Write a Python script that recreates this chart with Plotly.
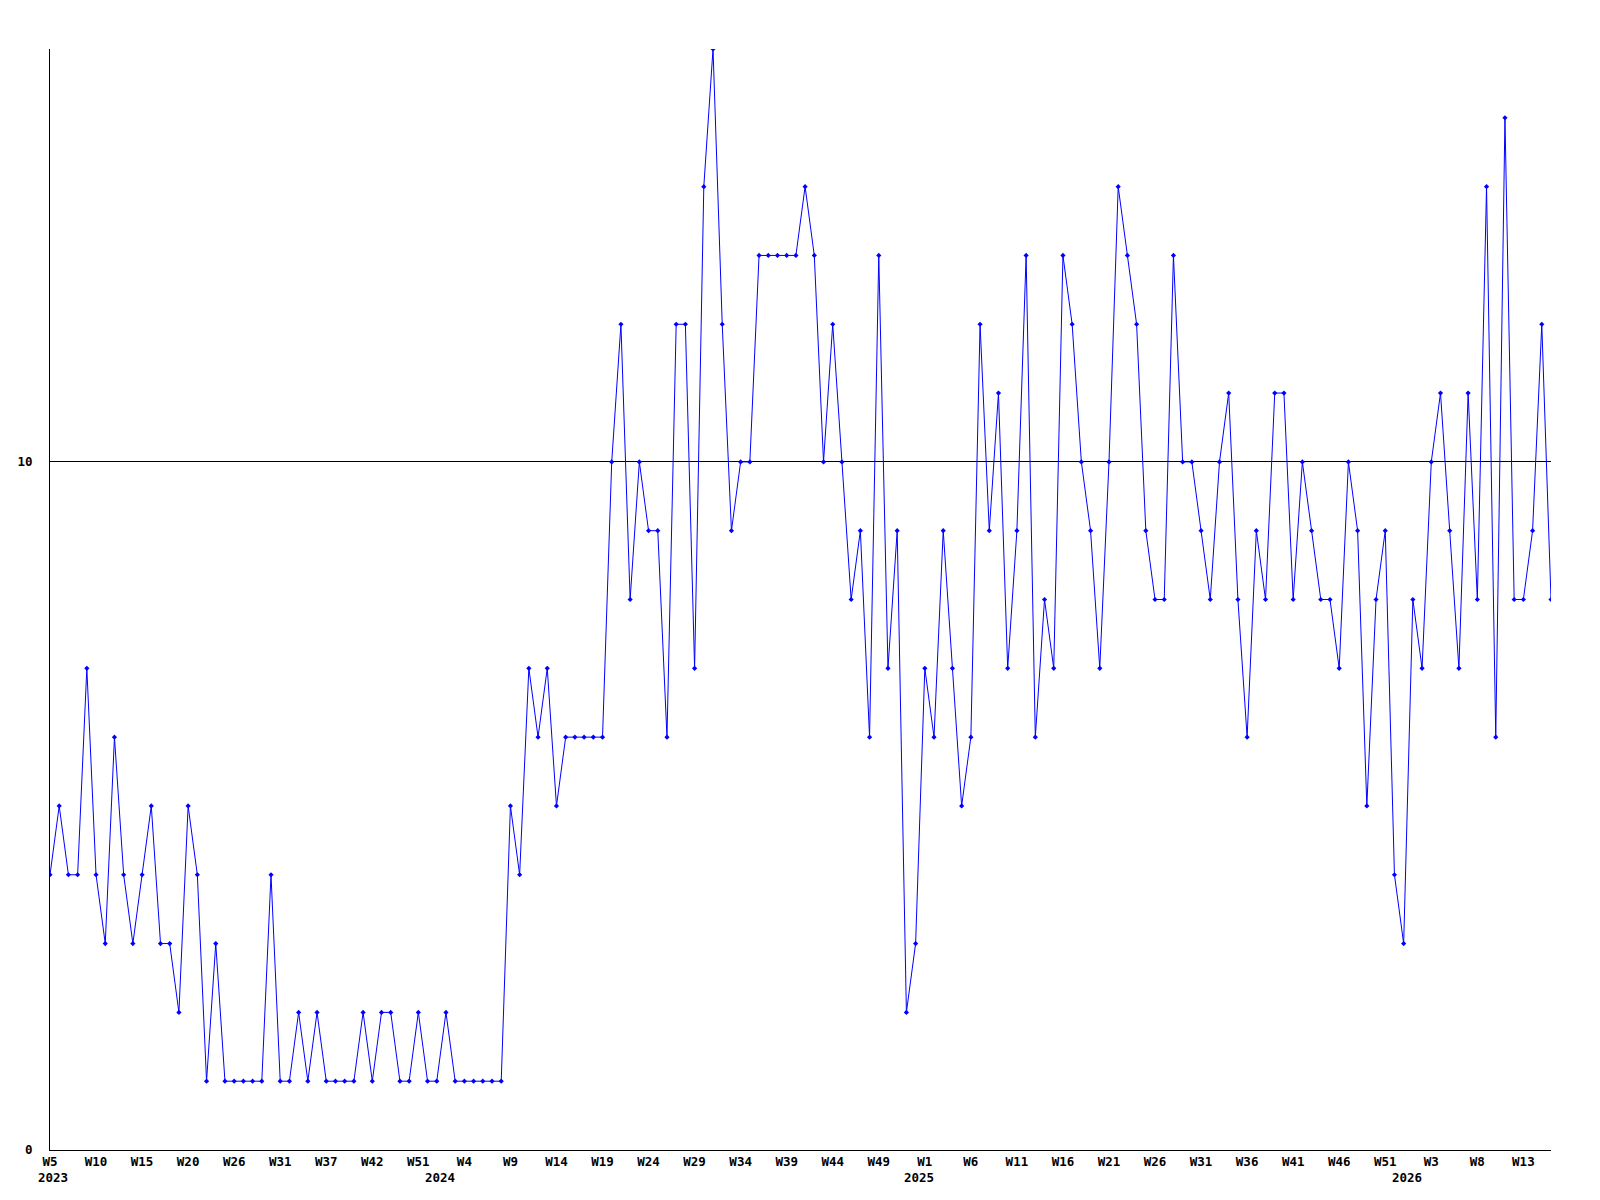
"""Weekly count chart, 2023 W5 to 2026 W16."""

import plotly.graph_objects as go

# one value per plotted week
counts = [
    4, 5, 4, 4, 7, 4, 3, 6, 4, 3, 4, 5, 3, 3, 2, 5, 4, 1, 3, 1,
    1, 1, 1, 1, 4, 1, 1, 2, 1, 2, 1, 1, 1, 1, 2, 1, 2, 2, 1, 1,
    2, 1, 1, 2, 1, 1, 1, 1, 1, 1, 5, 4, 7, 6, 7, 5, 6, 6, 6, 6,
    6, 10, 12, 8, 10, 9, 9, 6, 12, 12, 7, 14, 16, 12, 9, 10, 10, 13, 13, 13,
    13, 13, 14, 13, 10, 12, 10, 8, 9, 6, 13, 7, 9, 2, 3, 7, 6, 9, 7, 5,
    6, 12, 9, 11, 7, 9, 13, 6, 8, 7, 13, 12, 10, 9, 7, 10, 14, 13, 12, 9,
    8, 8, 13, 10, 10, 9, 8, 10, 11, 8, 6, 9, 8, 11, 11, 8, 10, 9, 8, 8,
    7, 10, 9, 5, 8, 9, 4, 3, 8, 7, 10, 11, 9, 7, 11, 8, 14, 6, 15, 8,
    8, 9, 12, 8,
]

# week labels shown every fifth point
week_labels = [
    "W5", "W10", "W15", "W20", "W26", "W31", "W37", "W42", "W51", "W4",
    "W9", "W14", "W19", "W24", "W29", "W34", "W39", "W44", "W49", "W1",
    "W6", "W11", "W16", "W21", "W26", "W31", "W36", "W41", "W46", "W51",
    "W3", "W8", "W13",
]
week_positions = [i * 5 for i in range(len(week_labels))]

years = ["2023", "2024", "2025", "2026"]
year_positions = [0, 42, 94, 147]

FONT = dict(family="DejaVu Sans Mono", size=12.5, color="black", weight="bold")

x = list(range(len(counts)))

fig = go.Figure()
fig.add_trace(
    go.Scatter(
        x=x,
        y=counts,
        mode="lines+markers",
        line=dict(color="#0000ff", width=1),
        marker=dict(symbol="diamond", size=4, color="#0000ff"),
        showlegend=False,
        hoverinfo="skip",
    )
)

for yr, pos in zip(years, year_positions):
    fig.add_annotation(
        x=pos, y=0, yref="paper", text=yr, showarrow=False,
        yanchor="top", yshift=-18, xshift=3, font=FONT,
    )

# page body adds an 8px margin, so the figure is a little smaller
fig.update_layout(
    width=1592,
    height=1192,
    margin=dict(l=42, r=49, t=41, b=50),
    paper_bgcolor="white",
    plot_bgcolor="white",
    font=FONT,
    xaxis=dict(
        range=[0, len(counts) - 1],
        tickvals=week_positions,
        ticktext=week_labels,
        showgrid=False,
        zeroline=False,
        showline=True,
        linecolor="black",
        linewidth=1,
        ticks="",
        tickfont=FONT,
        automargin=False,
    ),
    yaxis=dict(
        range=[0, 16],
        tickvals=[0, 10],
        ticktext=["0", "10"],
        showgrid=True,
        gridcolor="black",
        gridwidth=1,
        zeroline=False,
        showline=True,
        linecolor="black",
        linewidth=1,
        ticks="outside",
        ticklen=14,
        tickcolor="rgba(0,0,0,0)",
        tickfont=FONT,
        automargin=False,
    ),
)

fig.write_html("out.html")
